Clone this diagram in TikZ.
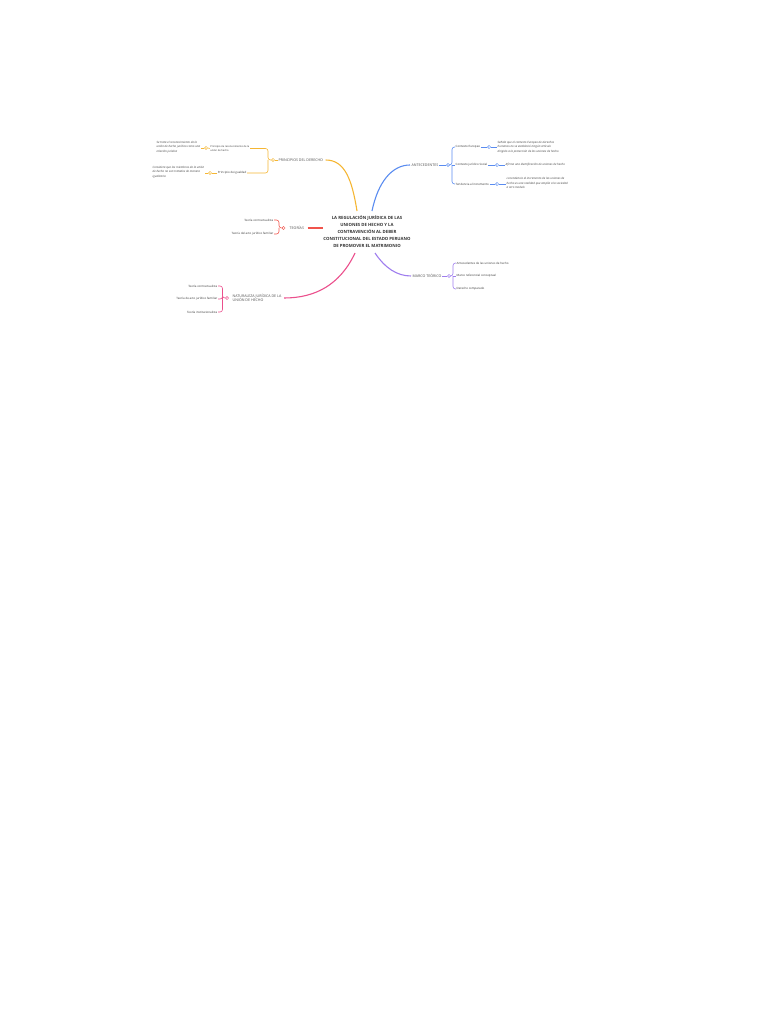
\documentclass[tikz,border=0pt]{standalone}
\usepackage{fontspec}
\setmainfont{Open Sans}
\definecolor{yel}{HTML}{F5B633}
\definecolor{redb}{HTML}{F0544C}
\definecolor{pinkb}{HTML}{EB4F8C}
\definecolor{blueb}{HTML}{5A8CF0}
\definecolor{purb}{HTML}{9F7EEE}
\begin{document}
\begin{tikzpicture}[x=1pt,y=-1pt,
  ctext/.style={font=\fontsize{4.3}{7}\selectfont\bfseries, align=center, text=black!80, inner sep=0.5pt},
  btext/.style={font=\fontsize{3.6}{4.6}\selectfont, text=black!70, inner sep=0.5pt, align=left},
  ktext/.style={font=\fontsize{2.9}{4.2}\selectfont, text=black!80, inner sep=0.5pt, align=left},
  kstext/.style={font=\fontsize{2.5}{4}\selectfont, text=black!80, inner sep=0.5pt, align=left},
  ltext/.style={font=\fontsize{2.9}{4.4}\selectfont\itshape, text=black!75, inner sep=0.5pt, align=left},
  hub/.style={circle, draw, fill=white, inner sep=0pt, minimum size=3.2pt, line width=0.5pt},
  br/.style={line width=0.6pt, rounded corners=2.5pt},
  mainl/.style={line width=1.1pt},
]
\path[use as bounding box] (0,0) rectangle (768,1024);

% central
\node[ctext] (c) at (367,232) {LA REGULACIÓN JURÍDICA DE LAS\\UNIONES DE HECHO Y LA\\CONTRAVENCIÓN AL DEBER\\CONSTITUCIONAL DEL ESTADO PERUANO\\DE PROMOVER EL MATRIMONIO};
\coordinate (cny) at (357,211);
\coordinate (cnb) at (372,211);
\coordinate (csp) at (355,253);
\coordinate (csu) at (375,253);

% ---------- yellow: principios
\node[btext, anchor=west] (p) at (278,160) {PRINCIPIOS DEL DERECHO};
\node[hub, draw=yel] (ph) at (273,160) {};
\node[kstext, anchor=east] (p1) at (250,148.5) {Principio de reconocimiento de la\\unión de hecho};
\node[ktext, anchor=east] (p2) at (247,173) {Principio de igualdad};
\node[hub, draw=yel] (p1h) at (206,148) {};
\node[hub, draw=yel] (p2h) at (210,173) {};
\node[ltext, anchor=east] (p1l) at (201,147) {Se trata el reconocimiento de la\\unión de hecho jurídico como una\\relación jurídica};
\node[ltext, anchor=east] (p2l) at (205,172) {Considera que los miembros de la unión\\de hecho no son tratados de manera\\igualitaria};
\draw[mainl, yel] (cny) .. controls (352,180) and (345,160) .. ([xshift=2pt]p.east);
\draw[br, yel] (p.west) -- (ph.east);
\draw[br, yel] (ph.west) -- (268,160) |- (p1.east);
\draw[br, yel] (268,160) |- (p2.east);
\draw[br, yel] (p1.west) -- (p1h.east);
\draw[br, yel] (p1h.west) -- (p1l.east |- p1h);
\draw[br, yel] (p2.west) -- (p2h.east);
\draw[br, yel] (p2h.west) -- (p2l.east |- p2h);

% ---------- red: teorias
\node[btext, anchor=west] (t) at (289,228) {TEORÍAS};
\node[hub, draw=redb] (th) at (283.5,228) {};
\node[ktext, anchor=east] (t1) at (274,220) {Teoría contractualista};
\node[ktext, anchor=east] (t2) at (274,234) {Teoría del acto jurídico familiar};
\draw[mainl, redb] ([xshift=3pt]t.east) -- (t.east -| c.west);
\draw[br, redb] (th.west) -- (279,228) |- (t1.east);
\draw[br, redb] (279,228) |- (t2.east);

% ---------- pink: naturaleza
\node[btext, anchor=west] (n) at (232,298) {NATURALEZA JURÍDICA DE LA\\UNIÓN DE HECHO};
\node[hub, draw=pinkb] (nh) at (227,298) {};
\node[ktext, anchor=east] (n1) at (218,286) {Teoría contractualista};
\node[ktext, anchor=east] (n2) at (218,299) {Teoría de acto jurídico familiar};
\node[ktext, anchor=east] (n3) at (218,312) {Teoría institucionalista};
\draw[mainl, pinkb] (csp) .. controls (340,285) and (315,298) .. ([xshift=2pt]n.east);
\draw[br, pinkb] (nh.west) -- (222.5,298) |- (n1.east);
\draw[br, pinkb] (222.5,298) |- (n2.east);
\draw[br, pinkb] (222.5,298) |- (n3.east);

% ---------- blue: antecedentes
\node[btext, anchor=west] (a) at (411,165) {ANTECEDENTES};
\node[hub, draw=blueb] (ah) at (448,165) {};
\node[ktext, anchor=west] (a1) at (455,147) {Contexto Europeo};
\node[ktext, anchor=west] (a2) at (455,165) {Contexto jurídico Social};
\node[ktext, anchor=west] (a3) at (455,184) {Tendencia al incremento};
\node[hub, draw=blueb] (a1h) at (489,147) {};
\node[hub, draw=blueb] (a2h) at (497,165) {};
\node[hub, draw=blueb] (a3h) at (497,184) {};
\node[ltext, anchor=west] (a1l) at (497,147) {Señala que el contexto Europeo de derechos\\humanos no se estableció ningún artículo\\dirigido a la protección de las uniones de hecho};
\node[ltext, anchor=west] (a2l) at (505,165) {Afirma una identificación de uniones de hecho};
\node[ltext, anchor=west] (a3l) at (506,183) {La tendencia al incremento de las uniones de\\hecho es una realidad que amplía a la sociedad\\a otro modelo};
\draw[mainl, blueb] (cnb) .. controls (378,182) and (392,165) .. ([xshift=-1pt]a.west);
\draw[br, blueb] (a.east) -- (ah.west);
\draw[br, blueb] (ah.east) -- (452,165) |- (a1.west);
\draw[br, blueb] (452,165) -- (a2.west);
\draw[br, blueb] (452,165) |- (a3.west);
\draw[br, blueb] (a1.east) -- (a1h.west);
\draw[br, blueb] (a1h.east) -- (a1l.west |- a1h);
\draw[br, blueb] (a2.east) -- (a2h.west);
\draw[br, blueb] (a2h.east) -- (a2l.west |- a2h);
\draw[br, blueb] (a3.east) -- (a3h.west);
\draw[br, blueb] (a3h.east) -- (a3l.west |- a3h);

% ---------- purple: marco teorico
\node[btext, anchor=west] (m) at (412,276) {MARCO TEÓRICO};
\node[hub, draw=purb] (mh) at (449,276) {};
\node[ktext, anchor=west] (m1) at (456,263) {Antecedentes de las uniones de hecho};
\node[ktext, anchor=west] (m2) at (456,276) {Marco referencial conceptual};
\node[ktext, anchor=west] (m3) at (456,289) {Derecho comparado};
\draw[mainl, purb] (csu) .. controls (385,268) and (397,276) .. ([xshift=-1pt]m.west);
\draw[br, purb] (m.east) -- (mh.west);
\draw[br, purb] (mh.east) -- (453,276) |- (m1.west);
\draw[br, purb] (453,276) -- (m2.west);
\draw[br, purb] (453,276) |- (m3.west);
\end{tikzpicture}
\end{document}
